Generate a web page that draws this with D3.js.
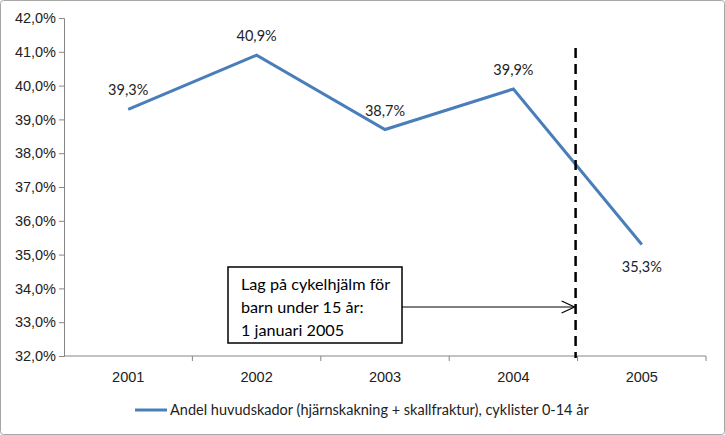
<!DOCTYPE html>
<html><head><meta charset="utf-8">
<script src="https://cdn.jsdelivr.net/npm/d3@7"></script>
<style>body{margin:0;background:#fff}svg{display:block;font-family:Lato,"Open Sans",sans-serif}</style>
</head><body><svg id="c" width="725" height="435"></svg>
<script>
const years = ["2001","2002","2003","2004","2005"];
const values = [39.3, 40.9, 38.7, 39.9, 35.3];
const labels = ["39,3%","40,9%","38,7%","39,9%","35,3%"];
const yTicks = [32,33,34,35,36,37,38,39,40,41,42];
const seriesName = "Andel huvudskador (hjärnskakning + skallfraktur), cyklister 0-14 år";
const noteLines = ["Lag på cykelhjälm för","barn under 15 år:","1 januari 2005"];

const FS = 14.5;
const svg = d3.select("#c");
svg.append("rect").attr("x",0.5).attr("y",0.5).attr("width",724).attr("height",434)
  .attr("rx",3).attr("fill","#fff").attr("stroke","#a6a6a6");

const L=64, R=706, T=18, B=356;
const x = d3.scaleBand().domain(years).range([L,R]);
const y = d3.scaleLinear().domain([32,42]).range([B,T]);
const fmt = d => d.toFixed(1).replace(".",",")+"%";

const ya = svg.append("g").attr("transform",`translate(${L},0)`)
  .call(d3.axisLeft(y).tickValues(yTicks).tickFormat(fmt).tickSize(5).tickPadding(3));
ya.select(".domain").attr("stroke","#868686");
ya.selectAll(".tick line").attr("stroke","#868686");
ya.selectAll("text").attr("font-size",FS).attr("fill","#222");

const xa = svg.append("g").attr("transform",`translate(0,${B})`)
  .call(d3.axisBottom(x).tickSize(0).tickPadding(16));
xa.select(".domain").attr("stroke","#868686").attr("d",`M${L},0H${R}`);
xa.selectAll("text").attr("font-size",FS).attr("fill","#222");
xa.selectAll(".bt").data(years).enter().append("line")
  .attr("x1",d=>x(d)+x.bandwidth()).attr("x2",d=>x(d)+x.bandwidth())
  .attr("y1",0).attr("y2",5).attr("stroke","#868686");

const cx = d => x(d)+x.bandwidth()/2;
const line = d3.line().x((d,i)=>cx(years[i])).y(d=>y(d));
svg.append("path").datum(values).attr("d",line).attr("fill","none")
  .attr("stroke","#4a7ebb").attr("stroke-width",3).attr("stroke-linejoin","miter");

svg.selectAll(".lbl").data(values).enter().append("text")
  .attr("x",(d,i)=>cx(years[i]))
  .attr("y",(d,i)=> i===4 ? y(d)+28 : y(d)-14)
  .attr("text-anchor","middle").attr("font-size",FS).attr("fill","#222")
  .text((d,i)=>labels[i]);

const lawX = x("2005") - 2;
svg.append("line").attr("x1",lawX).attr("x2",lawX).attr("y1",48).attr("y2",B+2)
  .attr("stroke","#000").attr("stroke-width",2.5).attr("stroke-dasharray","10,6");

const bx=228, by=267, bw=174, bh=76;
svg.append("rect").attr("x",bx).attr("y",by).attr("width",bw).attr("height",bh)
  .attr("fill","#fff").attr("stroke","#000").attr("stroke-width",1.5);
svg.selectAll(".note").data(noteLines).enter().append("text")
  .attr("x",bx+13).attr("y",(d,i)=>by+23+i*23).attr("font-size",16.2).attr("fill","#000").text(d=>d);
const ay=307;
svg.append("line").attr("x1",bx+bw).attr("x2",lawX-1).attr("y1",ay).attr("y2",ay)
  .attr("stroke","#000").attr("stroke-width",1.2);
svg.append("path").attr("d",`M${lawX-14},${ay-6}L${lawX-1},${ay}L${lawX-14},${ay+6}`)
  .attr("fill","none").attr("stroke","#000").attr("stroke-width",1.2);

const ly=410;
svg.append("line").attr("x1",135).attr("x2",167).attr("y1",ly).attr("y2",ly)
  .attr("stroke","#4a7ebb").attr("stroke-width",3);
svg.append("text").attr("x",170).attr("y",ly+5).attr("font-size",FS).attr("fill","#222").text(seriesName);
</script></body></html>
